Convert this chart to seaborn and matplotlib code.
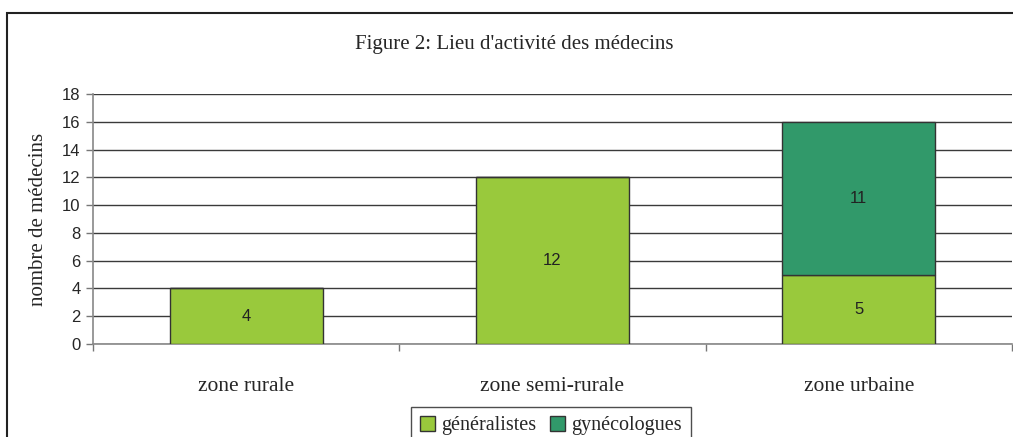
import matplotlib
matplotlib.use('Agg')
import matplotlib.pyplot as plt
from matplotlib.patches import Rectangle, Patch
import seaborn as sns

# data
zones = ['zone rurale', 'zone semi-rurale', 'zone urbaine']
generalistes = [4, 12, 5]
gynecologues = [0, 0, 11]
yticks = list(range(0, 19, 2))

col_gen = '#99c93c'
col_gyn = '#31996a'

sns.set_theme(style='white')
plt.rcParams['font.family'] = ['Liberation Serif', 'DejaVu Serif']

fig = plt.figure(figsize=(10.13, 4.37), dpi=100)
ax = fig.add_axes([93 / 1013, 1 - 344 / 437, 919 / 1013, 250 / 437])

sns.barplot(x=zones, y=generalistes, color=col_gen, width=0.5, saturation=1,
            edgecolor='#333333', linewidth=1, ax=ax, zorder=3)
sns.barplot(x=zones, y=gynecologues, bottom=generalistes, color=col_gyn,
            saturation=1, width=0.5, edgecolor='#333333', linewidth=1, ax=ax, zorder=3)

# value labels centred in each segment
ax.bar_label(ax.containers[0], labels=[str(v) for v in generalistes],
             label_type='center', fontsize=12, family='Liberation Sans',
             color='#222222')
ax.bar_label(ax.containers[1], labels=[str(v) if v else '' for v in gynecologues],
             label_type='center', fontsize=12, family='Liberation Sans',
             color='#222222')

ax.set_ylim(0, 18)
ax.set_xlim(-0.5, 2.5)
ax.set_yticks(yticks)
ax.set_yticklabels([str(t) for t in yticks], family='Liberation Sans', fontsize=12)
ax.yaxis.grid(True, color='#3a3a3a', linewidth=1)
ax.set_axisbelow(True)

ax.set_xticks([0, 1, 2])
ax.set_xticklabels(zones, fontsize=15.5)
ax.set_xticks([-0.5, 0.5, 1.5, 2.5], minor=True)
ax.tick_params(axis='x', which='major', length=0, pad=24)
ax.tick_params(axis='x', which='minor', length=5, width=1, color='#777777', direction='out', bottom=True)
ax.tick_params(axis='y', length=5, width=1, color='#777777', direction='out', left=True, pad=4)
ax.set_xlabel('')
ax.set_ylabel('nombre de médecins', fontsize=15, labelpad=10)

for s in ['top', 'right']:
    ax.spines[s].set_visible(False)
for s in ['left', 'bottom']:
    ax.spines[s].set_color('#888888')
    ax.spines[s].set_linewidth(1.2)

fig.text(514 / 1013, 1 - 44 / 437, "Figure 2: Lieu d'activité des médecins",
         ha='center', va='center', fontsize=15)

handles = [Patch(facecolor=col_gen, edgecolor='#333333', label='généralistes'),
           Patch(facecolor=col_gyn, edgecolor='#333333', label='gynécologues')]
leg = fig.legend(handles=handles, loc='upper center', ncol=2,
                 bbox_to_anchor=(551 / 1013, 1 - 407 / 437), fontsize=14.5,
                 frameon=True, fancybox=False, handlelength=0.75, handleheight=0.75,
                 handletextpad=0.3, columnspacing=0.7, borderpad=0.45,
                 borderaxespad=0)
leg.get_frame().set_edgecolor('#222222')
leg.get_frame().set_linewidth(1)

# outer chart border (cropped at right/bottom)
fig.patches.append(Rectangle((7 / 1013, -0.2), 1.2, 1.2 - 13 / 437 + 0.0,
                             transform=fig.transFigure, fill=False,
                             edgecolor='#222222', linewidth=1.5))

fig.savefig('out.png', dpi=100)
